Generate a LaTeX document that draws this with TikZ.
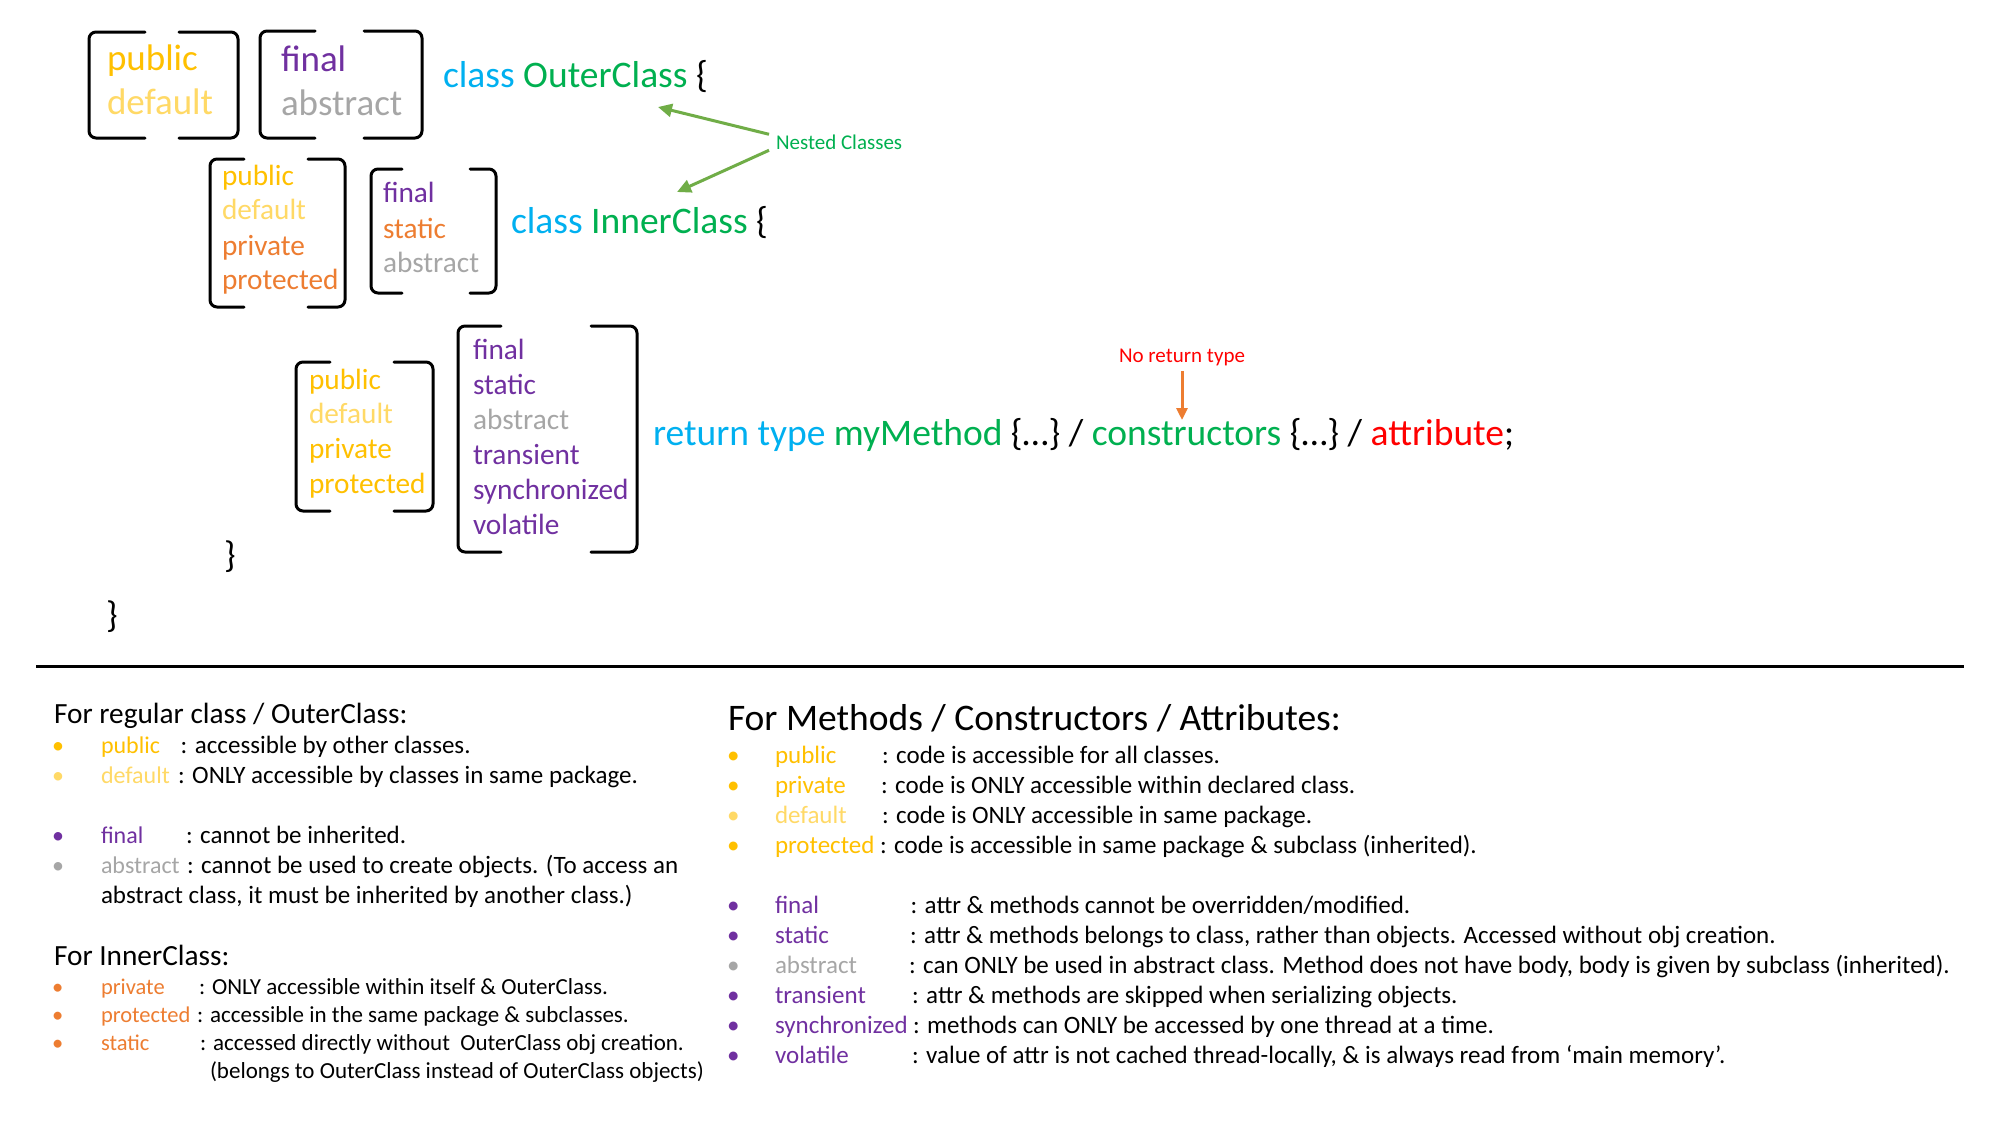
\documentclass[tikz,border=0pt]{standalone}
\usepackage{fontspec}
\setmainfont{Carlito}
\usetikzlibrary{arrows.meta}
\definecolor{cgold}{HTML}{FFC000}
\definecolor{clgold}{HTML}{FFD966}
\definecolor{cpurple}{HTML}{7030A0}
\definecolor{cgray}{HTML}{A6A6A6}
\definecolor{corange}{HTML}{ED7D31}
\definecolor{ccyan}{HTML}{00B0F0}
\definecolor{cgreen}{HTML}{00B050}
\definecolor{cred}{HTML}{FF0000}
\definecolor{carrow}{HTML}{70AD47}
\tikzset{
 txt/.style={anchor=base west, inner sep=0pt, outer sep=0pt, font=\fontsize{#1}{#1}\selectfont},
 boxarea/.style={draw=none, inner sep=0pt, outer sep=0pt, rectangle},
 brk/.style={line width=3pt, rounded corners=7pt, line cap=round},
 garrow/.style={draw=carrow, fill=carrow, line width=3pt, -{Triangle[length=14pt,width=13pt]}},
 oarrow/.style={draw=corange, fill=corange, line width=3pt, -{Triangle[length=12pt,width=11pt]}},
}
\newcommand\bracketbox[3]{%
 \draw[brk] ([xshift=#2pt]#1.north west) -- (#1.north west) -- (#1.south west) -- ([xshift=#2pt]#1.south west);
 \draw[brk] ([xshift=-#3pt]#1.north east) -- (#1.north east) -- (#1.south east) -- ([xshift=-#3pt]#1.south east);}
\newcommand\ksize{24}
\newcommand\dsize{25}
\newcommand\listline[8]{%
 \node[txt=\ksize, text=#5] (#1b) at (#2,#4) {•};
 \node[txt=\ksize, text=#5] (#1k) at (#3,#4) {#6};
 \node[txt=\dsize] (#1d) at (#7,#4) {#8};}
\begin{document}
\begin{tikzpicture}[x=1pt,y=-1pt]
\fill[white] (0,0) rectangle (2000,1125);
\useasboundingbox (0,0) rectangle (2000,1125);
% bracket boxes
\node[boxarea, minimum width=149, minimum height=106] (bx1) at (163.5,85) {};
\node[boxarea, minimum width=162, minimum height=107] (bx2) at (341,84.5) {};
\node[boxarea, minimum width=135, minimum height=148] (bx3) at (277.5,233) {};
\node[boxarea, minimum width=125, minimum height=124] (bx4) at (433.5,231) {};
\node[boxarea, minimum width=137, minimum height=149] (bx5) at (364.5,436.5) {};
\node[boxarea, minimum width=179, minimum height=226] (bx6) at (547.5,439) {};
\bracketbox{bx1}{56}{59}
\bracketbox{bx2}{55}{58}
\bracketbox{bx3}{34}{37}
\bracketbox{bx4}{31}{26}
\bracketbox{bx5}{34}{39}
\bracketbox{bx6}{43}{46}
% outer class
\node[txt=37, text=cgold] (b1a) at (107,70) {public};
\node[txt=37, text=clgold] (b1b) at (107,114) {default};
\node[txt=37, text=cpurple] (b2a) at (281,71) {final};
\node[txt=37, text=cgray] (b2b) at (281,115) {abstract};
\node[txt=37.5] (outer) at (443,87) {\textcolor{ccyan}{class} \textcolor{cgreen}{OuterClass} \{};
% nested label
\node[txt=21, text=cgreen] (nest) at (776,149.5) {Nested Classes};
\coordinate (tipo) at (658,107);
\coordinate (tipi) at (677,192);
\draw[garrow] ([xshift=-7pt,yshift=8pt]nest.west) -- (tipo);
\draw[garrow] ([xshift=-7pt,yshift=-8pt]nest.west) -- (tipi);
% inner class
\node[txt=29.3, text=cgold] (b3a) at (222,185) {public};
\node[txt=29.3, text=clgold] (b3b) at (222,219) {default};
\node[txt=29.3, text=corange] (b3c) at (222,255) {private};
\node[txt=29.3, text=corange] (b3d) at (222,289) {protected};
\node[txt=29.3, text=cpurple] (b4a) at (383,202) {final};
\node[txt=29.3, text=corange] (b4b) at (383,238) {static};
\node[txt=29.3, text=cgray] (b4c) at (383,272) {abstract};
\node[txt=37.5] (inner) at (511,233) {\textcolor{ccyan}{class} \textcolor{cgreen}{InnerClass} \{};
% methods
\node[txt=29.3, text=cgold] (b5a) at (309,389) {public};
\node[txt=29.3, text=clgold] (b5b) at (309,423) {default};
\node[txt=29.3, text=cgold] (b5c) at (309,458) {private};
\node[txt=29.3, text=cgold] (b5d) at (309,493) {protected};
\node[txt=29.3, text=cpurple] (b6a) at (473,359) {final};
\node[txt=29.3, text=cpurple] (b6b) at (473,394) {static};
\node[txt=29.3, text=cgray] (b6c) at (473,429) {abstract};
\node[txt=29.3, text=cpurple] (b6d) at (473,464) {transient};
\node[txt=29.3, text=cpurple] (b6e) at (473,499) {synchronized};
\node[txt=29.3, text=cpurple] (b6f) at (473,534) {volatile};
\node[txt=37.5] (ret) at (653,445) {\textcolor{ccyan}{return type} \textcolor{cgreen}{myMethod} \{…\} / \textcolor{cgreen}{constructors} \{…\} / \textcolor{cred}{attribute};};
\node[txt=21, anchor=base, text=cred] (nrt) at (1182,362) {No return type};
\coordinate (nrtend) at (1182,420);
\draw[oarrow] ([yshift=-6pt]nrt.south) -- (nrtend);
% closing braces
\node[txt=37] (cl1) at (224,567) {\}};
\node[txt=37] (cl2) at (106,627) {\}};
% separator
\draw[line width=3pt] (36,666) -- (1964,666);
% left lists
\node[txt=29.3] (hl) at (54,723) {For regular class / OuterClass:};
\listline{lp}{52}{101}{753}{cgold}{public}{180.7}{: accessible by other classes.}
\listline{ld}{52}{101}{783}{clgold}{default}{178}{: ONLY accessible by classes in same package.}
\listline{lf}{52}{101}{843}{cpurple}{final}{186}{: cannot be inherited.}
\listline{la}{52}{101}{873}{cgray}{abstract}{187}{: cannot be used to create objects. (To access an}
\node[txt=25] (lacont) at (101,903) {abstract class, it must be inherited by another class.)};
\node[txt=29.3] (hl2) at (54,965) {For InnerClass:};
\renewcommand\ksize{22.5}
\renewcommand\dsize{23}
\listline{li}{52}{101}{994}{corange}{private}{199}{: ONLY accessible within itself \& OuterClass.}
\listline{lq}{52}{101}{1022}{corange}{protected}{197}{: accessible in the same package \& subclasses.}
\listline{ls}{52}{101}{1050}{corange}{static}{200}{: accessed directly without\ \ OuterClass obj creation.}
\node[txt=23] (lscont) at (210,1078) {(belongs to OuterClass instead of OuterClass objects)};
% right lists
\renewcommand\ksize{25}
\renewcommand\dsize{25}
\node[txt=37.5] (hr) at (728,730) {For Methods / Constructors / Attributes:};
\listline{rp}{727}{775}{763}{cgold}{public}{882}{: code is accessible for all classes.}
\listline{rv}{727}{775}{793}{cgold}{private}{881}{: code is ONLY accessible within declared class.}
\listline{rd}{727}{775}{823}{clgold}{default}{882}{: code is ONLY accessible in same package.}
\listline{rq}{727}{775}{853}{cgold}{protected}{880}{: code is accessible in same package \& subclass (inherited).}
\listline{rf}{727}{775}{913}{cpurple}{final}{910.5}{: attr \& methods cannot be overridden/modified.}
\listline{rs}{727}{775}{943}{cpurple}{static}{910}{: attr \& methods belongs to class, rather than objects. Accessed without obj creation.}
\listline{ra}{727}{775}{973}{cgray}{abstract}{909}{: can ONLY be used in abstract class. Method does not have body, body is given by subclass (inherited).}
\listline{rt}{727}{775}{1003}{cpurple}{transient}{912}{: attr \& methods are skipped when serializing objects.}
\listline{ry}{727}{775}{1033}{cpurple}{synchronized}{913}{: methods can ONLY be accessed by one thread at a time.}
\listline{rl}{727}{775}{1063}{cpurple}{volatile}{912}{: value of attr is not cached thread-locally, \& is always read from ‘main memory’.}
\end{tikzpicture}
\end{document}
